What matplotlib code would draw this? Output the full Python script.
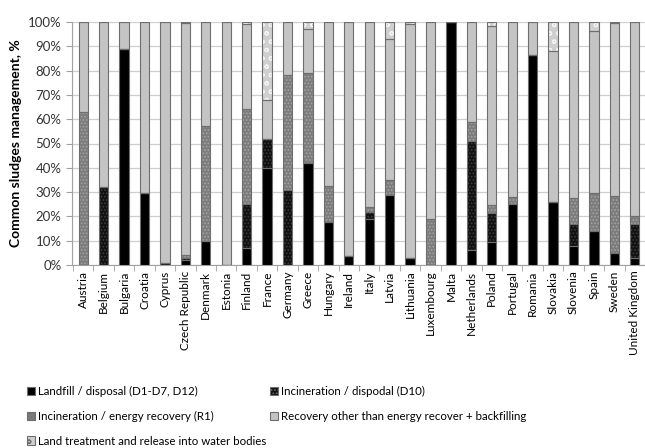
import matplotlib
matplotlib.use("Agg")
from matplotlib import pyplot as plt
from matplotlib.patches import Patch
from matplotlib.ticker import PercentFormatter
import numpy as np

countries = ["Austria", "Belgium", "Bulgaria", "Croatia", "Cyprus", "Czech Republic",
             "Denmark", "Estonia", "Finland", "France", "Germany", "Greece", "Hungary",
             "Ireland", "Italy", "Latvia", "Lithuania", "Luxembourg", "Malta",
             "Netherlands", "Poland", "Portugal", "Romania", "Slovakia", "Slovenia",
             "Spain", "Sweden", "United Kingdom"]

# shares in %
landfill = [0, 0, 89, 29.5, 0, 2, 10, 0, 7, 40, 0, 42, 17.5, 3.5, 19, 29, 3, 0, 100,
            6, 9.5, 25, 86.5, 26, 8, 14, 5, 3]
incin_d10 = [0, 32, 0, 0, 1, 1, 0, 0, 18, 12, 31, 0, 0, 0, 3, 0, 0, 0, 0,
             45, 12, 0, 0, 0, 9, 0, 0, 14]
incin_r1 = [63, 0, 0, 0, 0, 1, 47, 0, 39, 0, 47, 37, 15, 0, 2, 6, 0, 19, 0,
            8, 3, 3, 0, 0, 10.5, 15.5, 23.5, 3]
recovery = [37, 68, 11, 70.5, 99, 95.5, 43, 100, 35, 16, 22, 18, 67.5, 96.5, 76, 58, 96, 81, 0,
            41, 74, 72, 13.5, 62, 72.5, 67, 71, 80]
land_treat = [0, 0, 0, 0, 0, 0.5, 0, 0, 1, 32, 0, 3, 0, 0, 0, 7, 1, 0, 0,
              0, 1.5, 0, 0, 12, 0, 3.5, 0.5, 0]

labels = ["Landfill / disposal (D1-D7, D12)",
          "Incineration / dispodal (D10)",
          "Incineration / energy recovery (R1)",
          "Recovery other than energy recover + backfilling",
          "Land treatment and release into water bodies"]

# face colour, hatch, hatch colour
styles = [("#000000", None, "#000000"),
          ("#111111", ".....", "#3c3c3c"),
          ("#7c7c7c", ".....", "#a4a4a4"),
          ("#c4c4c4", None, "#c4c4c4"),
          ("#cfcfcf", "oo", "#f4f4f4")]

plt.rcParams["font.family"] = ["Lato", "DejaVu Sans"]
plt.rcParams["hatch.linewidth"] = 0.8
edge = "#6e6e6e"

fig = plt.figure(figsize=(6.45, 4.48), dpi=100)
ax = fig.add_axes([72 / 645, (448 - 265) / 448, 1 - 72 / 645, (265 - 22) / 448])

x = np.arange(len(countries))
bottom = np.zeros(len(countries))
handles = []
for vals, lab, (fc, hatch, hc) in zip([landfill, incin_d10, incin_r1, recovery, land_treat],
                                      labels, styles):
    vals = np.array(vals, dtype=float)
    # fill + hatch, then outline on top
    ax.bar(x, vals, 0.45, bottom=bottom, facecolor=fc, hatch=hatch,
           edgecolor=hc, linewidth=0, zorder=3)
    ax.bar(x, vals, 0.45, bottom=bottom, fill=False, edgecolor=edge, linewidth=0.8, zorder=4)
    bottom += vals
    handles.append(Patch(facecolor=fc, hatch=hatch, edgecolor=edge, linewidth=0.8, label=lab))

ax.set_xlim(-0.55, 27.4)
ax.set_ylim(0, 100)
ax.set_yticks(range(0, 101, 10))
ax.yaxis.set_major_formatter(PercentFormatter(decimals=0))
ax.set_xticks(x)
ax.set_xticklabels(countries, rotation=90, fontsize=8.5)
ax.set_xticks(np.arange(-0.5, 28, 1), minor=True)
ax.tick_params(axis="x", which="major", length=0, pad=4)
ax.tick_params(axis="x", which="minor", length=4, color="#a0a0a0")
ax.tick_params(axis="y", length=4, color="#a0a0a0", labelsize=9.5, labelcolor="#333333")
ax.grid(axis="y", color="#cfcfcf", linewidth=0.9, zorder=0)
for s in ["top", "right"]:
    ax.spines[s].set_visible(False)
ax.spines["left"].set_color("#a0a0a0")
ax.spines["bottom"].set_color("#a0a0a0")
ax.set_ylabel("Common sludges management, %", fontsize=10, fontweight="bold", labelpad=4)

order = [0, 2, 4, 1, 3]
fig.legend([handles[i] for i in order], [labels[i] for i in order], ncol=2,
           loc="upper left", bbox_to_anchor=(0.025, 0.162), frameon=False,
           fontsize=8.3, handlelength=0.7, handleheight=0.7, handletextpad=0.3,
           columnspacing=0.3, labelspacing=1.2)

fig.savefig("out.png", dpi=100)
